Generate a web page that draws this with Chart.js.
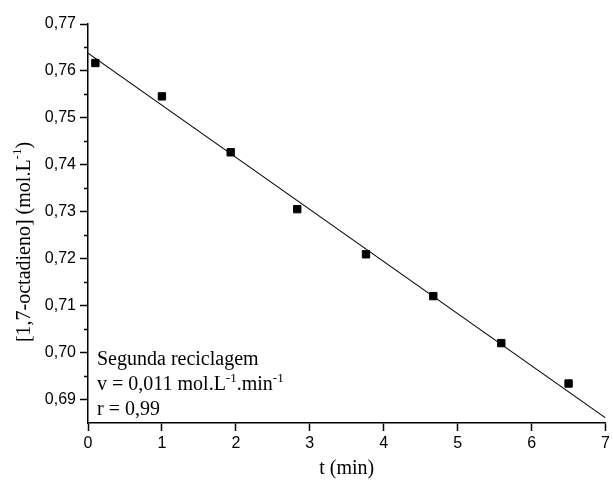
<!DOCTYPE html>
<html>
<head>
<meta charset="utf-8">
<script src="https://cdn.jsdelivr.net/npm/chart.js@4/dist/chart.umd.min.js"></script>
<style>
  html, body { margin: 0; padding: 0; background: #fff; }
  #wrap { width: 613px; height: 485px; position: relative; }
</style>
</head>
<body>
<div id="wrap"><canvas id="c" width="613" height="485"></canvas></div>
<script>
// Data
const timeMin = [0.1, 1.0, 1.93, 2.83, 3.76, 4.67, 5.59, 6.5];
const concentration = [0.7617, 0.7546, 0.7427, 0.7306, 0.7210, 0.7121, 0.7021, 0.6935];
const fitX = [0, 7];
const fitY = [0.7638, 0.6862];
const xTicks = [0, 1, 2, 3, 4, 5, 6, 7];
const yTicks = [0.69, 0.70, 0.71, 0.72, 0.73, 0.74, 0.75, 0.76, 0.77];
const yMinorTicks = [0.695, 0.705, 0.715, 0.725, 0.735, 0.745, 0.755, 0.765];
const yTitle = ['[1,7-octadieno] (mol.L', '-1', ')'];
const xTitle = 't (min)';
const noteLines = ['Segunda reciclagem', 'v = 0,011 mol.L|-1|.min|-1', 'r = 0,99'];

const SERIF = '"Liberation Serif", "Times New Roman", serif';
const SANS = '"Liberation Sans", Arial, sans-serif';

const points = timeMin.map((x, i) => ({ x: x, y: concentration[i] }));
const fit = fitX.map((x, i) => ({ x: x, y: fitY[i] }));

function drawRich(ctx, parts, x, y, size, supSize, supRise) {
  let cx = x;
  parts.forEach((p, i) => {
    const sup = i % 2 === 1;
    ctx.font = (sup ? supSize : size) + 'px ' + SERIF;
    ctx.fillText(p, cx, sup ? y - supRise : y);
    cx += ctx.measureText(p).width;
  });
  return cx - x;
}
function richWidth(ctx, parts, size, supSize) {
  let w = 0;
  parts.forEach((p, i) => {
    ctx.font = ((i % 2 === 1) ? supSize : size) + 'px ' + SERIF;
    w += ctx.measureText(p).width;
  });
  return w;
}

const extras = {
  id: 'extras',
  afterDraw(chart) {
    const ctx = chart.ctx;
    const ys = chart.scales.y;
    const area = chart.chartArea;
    ctx.save();
    ctx.strokeStyle = '#000';
    ctx.lineWidth = 1.5;
    yMinorTicks.forEach(v => {
      const py = Math.round(ys.getPixelForValue(v)) + 0.5;
      ctx.beginPath();
      ctx.moveTo(area.left - 4, py);
      ctx.lineTo(area.left, py);
      ctx.stroke();
    });
    ctx.fillStyle = '#000';
    // y title (rotated)
    ctx.save();
    ctx.translate(25, 242);
    ctx.rotate(-Math.PI / 2);
    ctx.textBaseline = 'middle';
    const w = richWidth(ctx, yTitle, 20, 13);
    drawRich(ctx, yTitle, -w / 2, 0, 20, 13, 7);
    ctx.restore();
    // x title
    ctx.font = '20px ' + SERIF;
    ctx.textAlign = 'center';
    ctx.textBaseline = 'middle';
    ctx.fillText(xTitle, (area.left + area.right) / 2, 469);
    // note text
    ctx.textAlign = 'left';
    ctx.textBaseline = 'alphabetic';
    const baselines = [365, 390, 415];
    noteLines.forEach((line, i) => {
      drawRich(ctx, line.split('|'), area.left + 9, baselines[i], 20, 13, 8);
    });
    ctx.restore();
  }
};

new Chart(document.getElementById('c'), {
  type: 'scatter',
  data: {
    datasets: [
      {
        type: 'line',
        data: fit,
        borderColor: '#000',
        borderWidth: 1.1,
        pointRadius: 0,
        fill: false,
        tension: 0
      },
      {
        data: points,
        pointStyle: 'rect',
        pointRadius: 5.2,
        pointHoverRadius: 5.2,
        backgroundColor: '#000',
        borderColor: '#000',
        borderWidth: 1
      }
    ]
  },
  plugins: [extras],
  options: {
    responsive: false,
    animation: false,
    events: [],
    layout: { padding: { top: 24, right: 6, left: 0, bottom: 0 } },
    plugins: { legend: { display: false }, tooltip: { enabled: false } },
    scales: {
      x: {
        type: 'linear',
        min: 0,
        max: 7,
        afterFit(s) { s.height = 62; },
        afterBuildTicks(s) { s.ticks = xTicks.map(v => ({ value: v })); },
        border: { display: true, color: '#000', width: 1.5 },
        grid: { display: true, drawOnChartArea: false, drawTicks: true, tickLength: 8, color: '#000', tickColor: '#000', tickWidth: 1.5 },
        ticks: {
          color: '#000',
          font: { family: SANS, size: 16 },
          padding: 3,
          maxRotation: 0,
          callback: v => String(v)
        }
      },
      y: {
        type: 'linear',
        min: 0.6851,
        max: 0.77,
        afterFit(s) { s.width = 88; },
        afterBuildTicks(s) { s.ticks = yTicks.map(v => ({ value: v })); },
        border: { display: true, color: '#000', width: 1.5 },
        grid: { display: true, drawOnChartArea: false, drawTicks: true, tickLength: 8, color: '#000', tickColor: '#000', tickWidth: 1.5 },
        ticks: {
          color: '#000',
          font: { family: SANS, size: 16 },
          padding: 4,
          callback: v => v.toFixed(2).replace('.', ',')
        }
      }
    }
  }
});
</script>
</body>
</html>
